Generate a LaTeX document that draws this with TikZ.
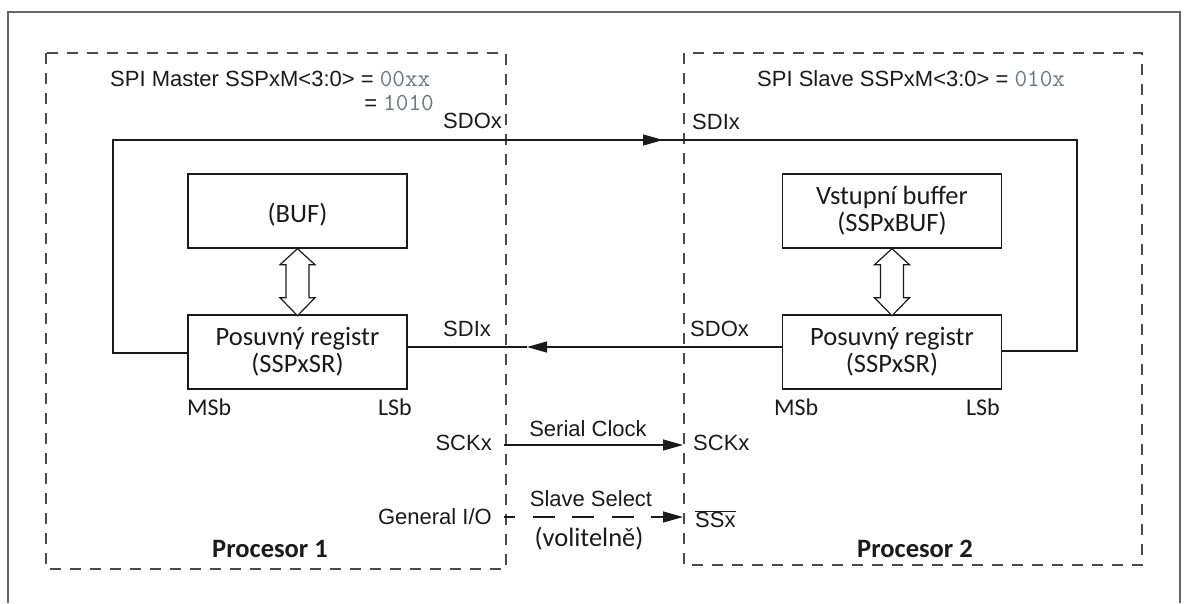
\documentclass[tikz,border=0pt]{standalone}
\usepackage{fontspec}
\setmainfont{Liberation Sans}
\newfontfamily\calfont{Carlito}
\usetikzlibrary{arrows.meta}
\definecolor{codegray}{HTML}{6C7580}
\definecolor{dashgray}{HTML}{4A4A4A}
\definecolor{framegray}{HTML}{666666}
\definecolor{ink}{HTML}{1A1A1A}
\newcommand\codetxt[1]{{\ttfamily\fontsize{24.5}{26}\selectfont\color{codegray}#1}}
\begin{document}
\begin{tikzpicture}[x=1pt,y=-1pt,
  lbl/.style={inner sep=0pt, text=ink, font=\fontsize{22}{26}\selectfont},
  clbl/.style={inner sep=0pt, text=ink, font=\calfont\fontsize{24}{27}\selectfont},
  regbox/.style={draw=ink, line width=1.4pt, minimum width=219pt, minimum height=74pt,
    inner sep=0pt, align=center, text=ink, font=\calfont\fontsize{26.5}{27}\selectfont},
  procbox/.style={draw=dashgray, line width=1.5pt, dash pattern=on 11pt off 9pt},
  wire/.style={draw=ink, line width=1.2pt},
  tip/.style={-{Triangle[length=20pt,width=11pt]}},
  dbl/.style={draw=ink, line width=1.2pt, fill=white},
  bold/.style={inner sep=0pt, text=ink, font=\calfont\bfseries\fontsize{26.5}{27}\selectfont}
]
\useasboundingbox (0,0) rectangle (1184,603);
% outer frame
\draw[framegray, line width=2pt] (8,603) -- (8,12) -- (1180,12) -- (1180,603);
% processor boxes
\draw[procbox] (46,53) rectangle (506,569);
\draw[procbox] (684,53) rectangle (1142,565);

% titles
\node[lbl, anchor=west] (tm) at (110,79) {SPI Master SSPxM<3:0> = \codetxt{00xx}};
\node[lbl, anchor=east] (tm2) at (434,103) {= \codetxt{1010}};
\node[lbl, anchor=west] (ts) at (757,79) {SPI Slave SSPxM<3:0> = \codetxt{010x}};

% registers
\node[regbox] (mbuf) at (297.5,211) {\mbox{}\\(BUF)};
\node[regbox] (msr) at (297.5,352) {Posuvný registr\\(SSPxSR)};
\node[regbox] (sbuf) at (892,211) {Vstupní buffer\\(SSPxBUF)};
\node[regbox] (ssr) at (892,352) {Posuvný registr\\(SSPxSR)};

% double arrows
\foreach \b in {mbuf, sbuf}{
  \draw[dbl, shift={(\b.south)}] (0,0) -- (17.5,16) -- (11.5,16) -- (11.5,49) -- (17.5,49)
    -- (0,67) -- (-17.5,49) -- (-11.5,49) -- (-11.5,16) -- (-17.5,16) -- cycle;
}

% data loop SDO (master) -> SDI (slave)
\coordinate (c1) at (113,353);
\coordinate (c2) at (113,140);
\coordinate (amid) at (663,140);
\coordinate (c3) at (1077,140);
\coordinate (c4) at (1077,351);
\draw[wire] (msr.west |- c1) -- (c1) -- (c2) -- (amid);
\draw[wire, tip] (c2) -- (amid);
\draw[wire] (amid) -- (c3) -- (c4) -- (ssr.east |- c4);

% SDO (slave) -> SDI (master)
\coordinate (bmid) at (527,347);
\draw[wire, tip] (ssr.west |- bmid) -- (bmid);
\draw[wire] (bmid) -- (msr.east |- bmid);

% pin labels
\node[lbl, anchor=west] (sdom) at (443,121) {SDOx};
\node[lbl, anchor=west] (sdis) at (692,122) {SDIx};
\node[lbl, anchor=west] (sdim) at (443,329) {SDIx};
\node[lbl, anchor=west] (sdos) at (690,329) {SDOx};
\node[clbl, anchor=west] (msbm) at (187,407) {MSb};
\node[clbl, anchor=east] (lsbm) at (412,407) {LSb};
\node[clbl, anchor=west] (msbs) at (774,407) {MSb};
\node[clbl, anchor=east] (lsbs) at (1000,407) {LSb};

% serial clock
\coordinate (scka) at (504,445);
\coordinate (sckb) at (683,445);
\draw[wire, tip] (scka) -- (sckb);
\node[lbl, anchor=east] (sckm) at (492,443) {SCKx};
\node[lbl, anchor=west] (scks) at (693,443) {SCKx};
\node[lbl] (sclk) at (588,429) {Serial Clock};

% slave select
\coordinate (ssa) at (504,517);
\coordinate (ssb) at (683,517);
\draw[wire, tip, dash pattern=on 22pt off 17.5pt, dash phase=11pt] (ssa) -- (ssb);
\node[lbl, anchor=east] (gio) at (492,517) {General I/O};
\node[lbl, anchor=west] (ssx) at (695,519) {$\overline{\hbox{SSx}}$};
\node[lbl] (ssel) at (591,499) {Slave Select};
\node[inner sep=0pt, text=ink, font=\calfont\fontsize{26.5}{27}\selectfont] (vol) at (589,539) {(volitelně)};

% processor labels
\node[bold] (p1) at (270,549) {Procesor 1};
\node[bold] (p2) at (915,549) {Procesor 2};
\end{tikzpicture}
\end{document}
